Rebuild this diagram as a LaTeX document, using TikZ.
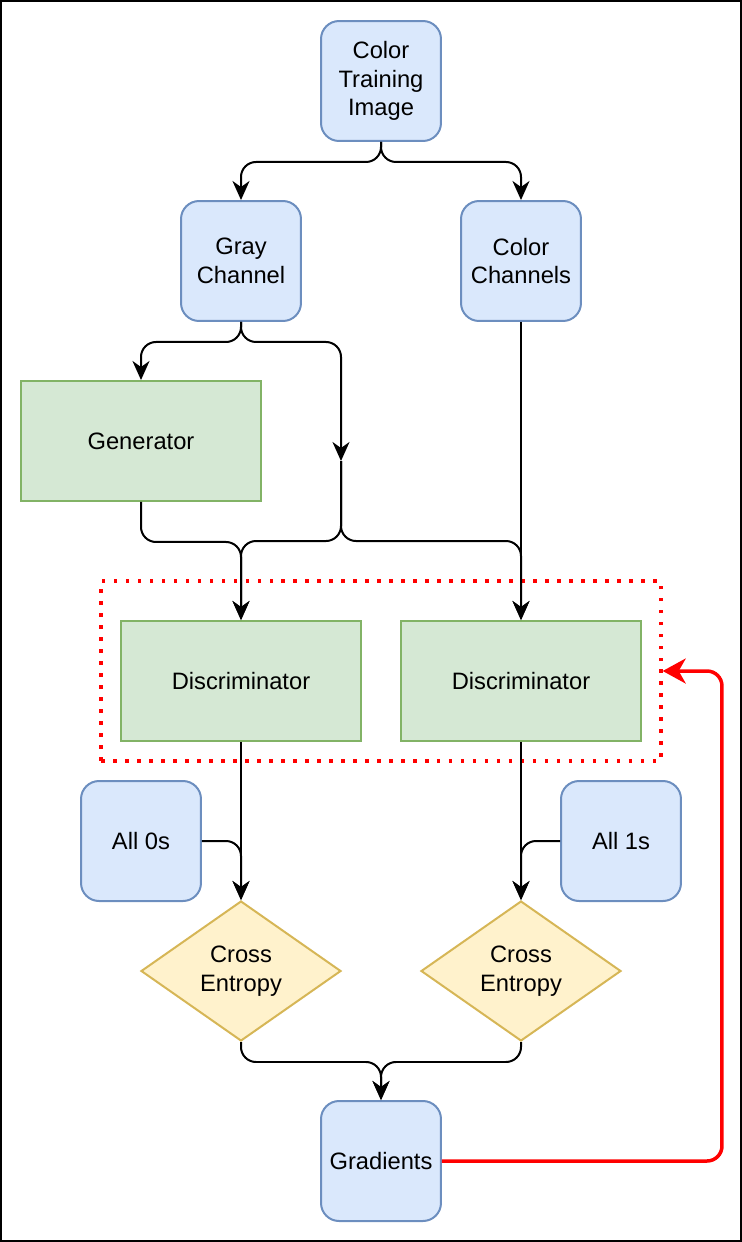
\documentclass[tikz,border=0pt]{standalone}
\usepackage{fontspec}
\setmainfont{Liberation Sans}
\usetikzlibrary{arrows.meta,shapes.geometric}
\definecolor{boxfill}{HTML}{DAE8FC}
\definecolor{boxline}{HTML}{6C8EBF}
\definecolor{netfill}{HTML}{D5E8D4}
\definecolor{netline}{HTML}{82B366}
\definecolor{lossfill}{HTML}{FFF2CC}
\definecolor{lossline}{HTML}{D6B656}
\definecolor{fbred}{HTML}{FF0000}
\begin{document}
\begin{tikzpicture}[x=0.02cm, y=-0.02cm,
			every node/.style = {align=center, line width=0.04cm, inner sep=0pt,
				font=\fontsize{13.5}{16.2}\selectfont},
			box/.style = {draw=boxline, fill=boxfill, rounded corners=0.36cm,
				minimum width=2.4cm, minimum height=2.4cm},
			net/.style = {draw=netline, fill=netfill, minimum width=4.8cm, minimum height=2.4cm},
			loss/.style = {diamond, draw=lossline, fill=lossfill, aspect=1.43,
				minimum width=4cm, minimum height=2.8cm},
			link/.style = {draw, line width=0.04cm, rounded corners=0.3cm,
				-{Stealth[length=0.38cm, width=0.34cm, inset=0.12cm]}},
			feedback/.style = {draw=fbred, line width=0.07cm, rounded corners=0.3cm,
				-{Stealth[length=0.46cm, width=0.5cm, inset=0.14cm]}}]
			
			\useasboundingbox (0,0) rectangle (742,1242);
			\draw[line width=0.04cm] (1,1) rectangle (741,1241);
			
			% inputs
			\node[box] (image) at (381,81) {Color\\Training\\Image};
			\node[box] (gray) at (241,261) {Gray\\Channel};
			\node[box] (colors) at (521,261) {Color\\Channels};
			\node[net] (gen) at (141,441) {Generator};
			\coordinate (join) at (341,461);
			
			% discriminators
			\node[draw=fbred, line width=0.07cm, dash pattern=on 0.07cm off 0.17cm,
				minimum width=11.2cm, minimum height=3.6cm] (train) at (381,671) {};
			\node[net] (discL) at (241,681) {Discriminator};
			\node[net] (discR) at (521,681) {Discriminator};
			
			% losses
			\node[box] (zeros) at (141,841) {All 0s};
			\node[box] (ones) at (621,841) {All 1s};
			\node[loss] (ceL) at (241,971) {Cross\\Entropy};
			\node[loss] (ceR) at (521,971) {Cross\\Entropy};
			\node[box] (grad) at (381,1161) {Gradients};
			
			\draw[link] (image.south) -- ++(0,20) -| (gray.north);
			\draw[link] (image.south) -- ++(0,20) -| (colors.north);
			\draw[link] (gray.south) -- ++(0,20) -| (gen.north);
			\draw[link] (gray.south) -- ++(0,20) -| (join);
			\draw[link] (gen.south) -- ++(0,40) -| (discL.north);
			\draw[link] (join) -- ++(0,80) -| (discL.north);
			\draw[link] (join) -- ++(0,80) -| (discR.north);
			\draw[link] (colors.south) -- (discR.north);
			\draw[link] (discL.south) -- (ceL.north);
			\draw[link] (zeros.east) -| (ceL.north);
			\draw[link] (discR.south) -- (ceR.north);
			\draw[link] (ones.west) -| (ceR.north);
			\draw[link] (ceL.south) -- ++(0,20) -| (grad.north);
			\draw[link] (ceR.south) -- ++(0,20) -| (grad.north);
			\draw[feedback] (grad.east) -- ++(280,0) |- (train.east);
			\end{tikzpicture}
\end{document}
